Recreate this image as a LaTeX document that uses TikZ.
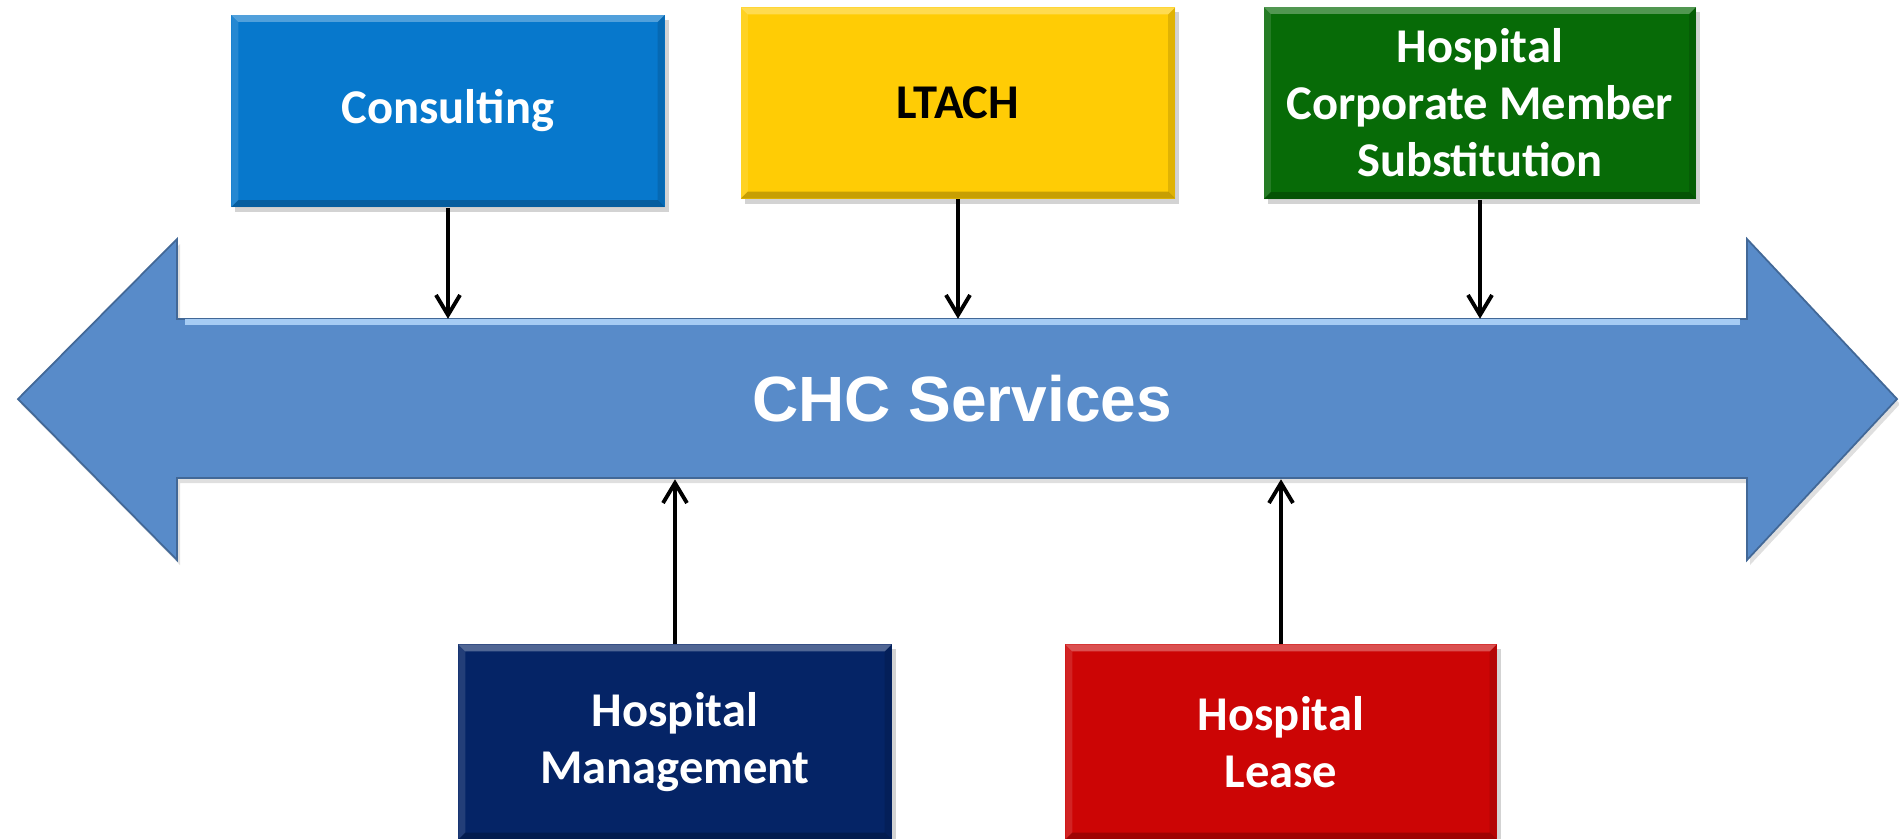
\documentclass[tikz,border=0pt]{standalone}
\usepackage{fontspec}
\setmainfont{Carlito}
\newfontfamily\headfont{Liberation Sans}
\usetikzlibrary{arrows.meta,shadows}

\definecolor{arrowblue}{HTML}{588BC9}
\definecolor{arrowlight}{HTML}{A6CCF4}
\definecolor{consultblue}{RGB}{7,120,204}
\definecolor{ltachyellow}{HTML}{FFCC05}
\definecolor{memgreen}{RGB}{7,107,7}
\definecolor{mgmtnavy}{RGB}{5,36,102}
\definecolor{leasered}{HTML}{CC0505}

% light top/left and dark bottom/right edges on the boxes
\tikzstyle{bevel} = [path picture={
    \path (path picture bounding box.north west) coordinate (bnw)
          (path picture bounding box.south east) coordinate (bse)
          (path picture bounding box.north east) coordinate (bne)
          (path picture bounding box.south west) coordinate (bsw);
    \fill[white, opacity=.3] (bnw) -- (bne) -- ([shift={(-0.07cm,-0.07cm)}]bne)
        -- ([shift={(0.07cm,-0.07cm)}]bnw) -- cycle;
    \fill[white, opacity=.12] (bnw) -- ([shift={(0.07cm,-0.07cm)}]bnw)
        -- ([shift={(0.07cm,0.07cm)}]bsw) -- (bsw) -- cycle;
    \fill[black, opacity=.22] (bsw) -- (bse) -- ([shift={(-0.07cm,0.07cm)}]bse)
        -- ([shift={(0.07cm,0.07cm)}]bsw) -- cycle;
    \fill[black, opacity=.12] (bne) -- ([shift={(-0.07cm,-0.07cm)}]bne)
        -- ([shift={(-0.07cm,0.07cm)}]bse) -- (bse) -- cycle;
  }]
\tikzstyle{service} = [rectangle, bevel, text=white, align=center,
    font=\bfseries\fontsize{13.8}{16.2}\selectfont, inner sep=0pt,
    minimum width=4.33cm, minimum height=1.92cm,
    drop shadow={shadow xshift=0.04cm, shadow yshift=-0.05cm, opacity=.35}]
\tikzstyle{line} = [draw, line width=1.1pt, -{Straight Barb[length=2mm,width=2.4mm]}]

\begin{document}
\begin{tikzpicture}[x=0.01cm, y=-0.01cm]
    \useasboundingbox (0,0) rectangle (1899,838);
    % the double arrow
    \fill[arrowblue, draw=arrowblue!75!black, line width=0.5pt,
          drop shadow={shadow xshift=0.03cm, shadow yshift=-0.05cm, opacity=.25}]
        (18,399) -- (177,239) -- (177,319) -- (1747,319) -- (1747,239)
        -- (1897,399) -- (1747,560) -- (1747,478) -- (177,478) -- (177,560) -- cycle;
    \draw[arrowlight, line width=1.5pt] (185,322) -- (1740,322);
    \node [minimum width=15.7cm, minimum height=1.59cm, inner sep=0pt,
           text=white, font=\headfont\bfseries\fontsize{18.2}{20}\selectfont]
        (chc) at (962,399) {CHC Services};
    % Place nodes
    \node [service, fill=consultblue] (consult) at (448,111) {Consulting};
    \node [service, fill=ltachyellow, text=black, minimum width=4.34cm,
           minimum height=1.91cm] (ltach) at (958,103) {LTACH};
    \node [service, fill=memgreen, minimum width=4.32cm] (member) at (1480,103)
        {Hospital\\Corporate Member\\Substitution};
    \node [service, fill=mgmtnavy, minimum height=1.95cm] (mgmt) at (675,742)
        {Hospital\\Management};
    \node [service, fill=leasered, minimum width=4.31cm, minimum height=1.95cm]
        (lease) at (1281,742) {Hospital\\Lease};
    % Draw edges
    \path [line] (consult) -- (consult |- chc.north);
    \path [line] (ltach) -- (ltach |- chc.north);
    \path [line] (member) -- (member |- chc.north);
    \path [line] (mgmt) -- (mgmt |- chc.south);
    \path [line] (lease) -- (lease |- chc.south);
\end{tikzpicture}
\end{document}
